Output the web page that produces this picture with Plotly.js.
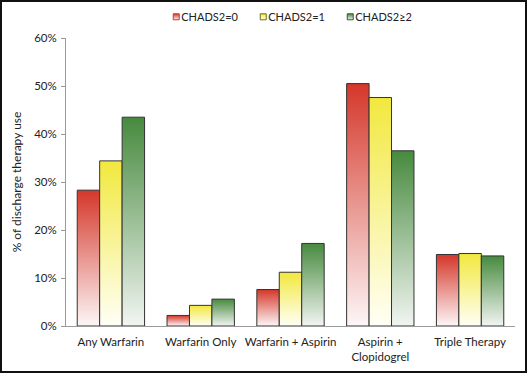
<!DOCTYPE html>
<html>
<head>
<meta charset="utf-8">
<script src="https://cdn.plot.ly/plotly-3.0.1.min.js"></script>
<style>
html,body{margin:0;padding:0;background:#fff;}
#wrap{position:relative;width:527px;height:373px;}
#chart{position:absolute;left:0;top:0;width:527px;height:373px;}
#frame{position:absolute;left:0;top:0;width:523px;height:369px;border:2px solid #111;pointer-events:none;}
</style>
</head>
<body>
<div id="wrap"><div id="chart"></div><div id="frame"></div></div>
<script>
var categories = ["Any Warfarin", "Warfarin Only", "Warfarin + Aspirin", "Aspirin +<br>Clopidogrel", "Triple Therapy"];
var chads0 = [28.3, 2.2, 7.6, 50.5, 14.9];
var chads1 = [34.4, 4.3, 11.2, 47.6, 15.1];
var chads2 = [43.5, 5.6, 17.2, 36.5, 14.6];
var seriesNames = ["CHADS2=0", "CHADS2=1", "CHADS2\u22652"];
var yTicks = [0, 10, 20, 30, 40, 50, 60];

var grads = [
  {id: "gRed", top: "#d4372a", bottom: "#fdf6f7", edge: "#c0392b"},
  {id: "gYel", top: "#f2e83e", bottom: "#fffff6", edge: "#6e6a1a"},
  {id: "gGrn", top: "#478a3e", bottom: "#f2f5f2", edge: "#2f5a2a"}
];
var lineCol = "#333333";
var fontFam = "Lato, 'Open Sans', sans-serif";

function mk(name, vals, col) {
  return {type: "bar", name: name, x: categories, y: vals,
    marker: {color: col, line: {color: lineCol, width: 1}}, hoverinfo: "none"};
}
var data = [
  mk(seriesNames[0], chads0, grads[0].top),
  mk(seriesNames[1], chads1, grads[1].top),
  mk(seriesNames[2], chads2, grads[2].top)
];

var layout = {
  width: 527, height: 373,
  margin: {l: 66, r: 12, t: 38, b: 47},
  paper_bgcolor: "#fff", plot_bgcolor: "#fff",
  barmode: "group", bargap: 0.25, bargroupgap: 0,
  font: {family: fontFam, size: 12, color: "#222"},
  showlegend: true,
  legend: {orientation: "h", x: 0.268, xref: "container", xanchor: "left", y: 0.955, yref: "container", yanchor: "middle",
    font: {size: 11, color: "#222"}, itemwidth: 30, entrywidth: 42, entrywidthmode: "pixels", traceorder: "normal"},
  xaxis: {type: "category", showline: true, linecolor: "#9a9a9a", linewidth: 1, ticks: "", showgrid: false,
    tickfont: {size: 11.5, color: "#222"}, ticklabelstandoff: 5, fixedrange: true},
  yaxis: {range: [0, 60], tickvals: yTicks, ticktext: yTicks.map(function(v){return v + "%";}),
    showline: true, linecolor: "#9a9a9a", linewidth: 1, ticks: "outside", ticklen: 4, tickcolor: "#9a9a9a",
    showgrid: false, zeroline: false, tickfont: {size: 11.5, color: "#222"}, fixedrange: true, ticklabelstandoff: 2,
    title: {text: "% of discharge therapy use", font: {size: 12, color: "#222"}, standoff: 9}}
};

function applyGradients(gd) {
  var svg = gd.querySelector("svg.main-svg");
  if (!svg) return;
  var defs = svg.querySelector("defs");
  var ns = "http://www.w3.org/2000/svg";
  grads.forEach(function(g) {
    if (svg.querySelector("#" + g.id)) return;
    var lg = document.createElementNS(ns, "linearGradient");
    lg.setAttribute("id", g.id);
    lg.setAttribute("x1", "0"); lg.setAttribute("y1", "0");
    lg.setAttribute("x2", "0"); lg.setAttribute("y2", "1");
    var s1 = document.createElementNS(ns, "stop");
    s1.setAttribute("offset", "0"); s1.setAttribute("stop-color", g.top);
    var s2 = document.createElementNS(ns, "stop");
    s2.setAttribute("offset", "1"); s2.setAttribute("stop-color", g.bottom);
    lg.appendChild(s1); lg.appendChild(s2);
    defs.appendChild(lg);
  });
  var traces = gd.querySelectorAll(".barlayer .trace");
  traces.forEach(function(t, i) {
    t.querySelectorAll("path").forEach(function(p) { p.style.fill = "url(#" + grads[i].id + ")"; });
  });
  gd.querySelectorAll(".legend .scrollbox").forEach(function(s) { s.removeAttribute("clip-path"); });
  var legs = gd.querySelectorAll(".legend .traces");
  legs.forEach(function(t, i) {
    t.querySelectorAll(".legendpoints path").forEach(function(p) {
      p.setAttribute("d", "M3,3H-3V-3H3Z");
      p.setAttribute("transform", "translate(35,0)");
      p.style.fill = "url(#" + grads[i].id + ")";
      p.style.stroke = grads[i].edge;
      p.style.strokeWidth = "1px";
    });
  });
}

Plotly.newPlot("chart", data, layout, {displayModeBar: false, staticPlot: true}).then(function(gd) {
  applyGradients(gd);
  gd.on("plotly_afterplot", function() { applyGradients(gd); });
});
</script>
</body>
</html>
